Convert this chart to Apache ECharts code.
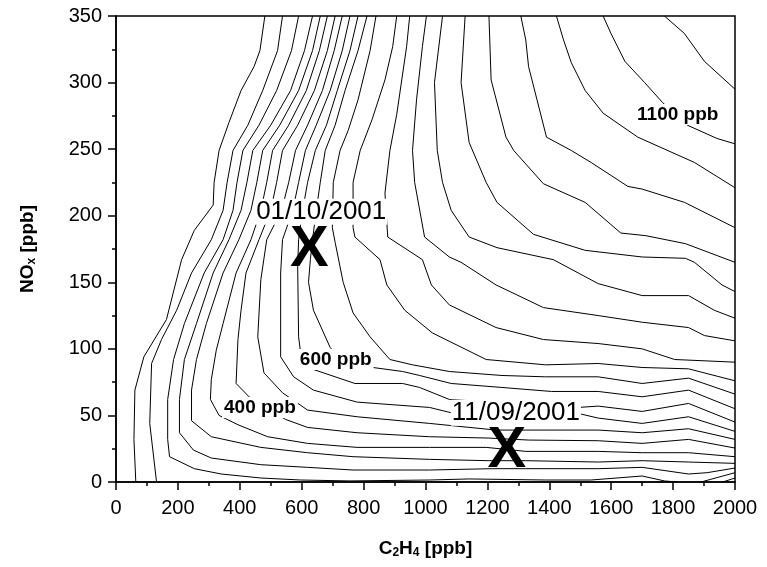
<!DOCTYPE html>
<html>
<head>
<meta charset="utf-8">
<script src="https://cdn.jsdelivr.net/npm/echarts@6.0.0/dist/echarts.min.js"></script>
<style>html,body{margin:0;padding:0;background:#fff;}#main{width:767px;height:567px;}</style>
</head>
<body>
<div id="main"></div>
<script>
// Contour lines (isopleths), [C2H4 ppb, NOx ppb]
const c1150 = [[1772,350],[1836,337],[1901,316],[2000,295]];
const c1100 = [[1574,350],[1599,337],[1644,316],[1708,300],[1766,285],[1846,268],[1942,258],[2000,254]];
const c1050 = [[1423,350],[1446,332],[1471,315],[1516,294],[1574,277],[1686,259],[1869,240],[2000,221]];
const c1000 = [[1308,350],[1324,332],[1333,312],[1391,259],[1471,249],[1535,240],[1654,222],[1700,220],[1837,210],[2000,191]];
const c950 = [[1205,350],[1212,302],[1260,259],[1285,249],[1381,224],[1516,210],[1631,187],[1712,185],[1840,179],[2000,165]];
const c900 = [[1128,350],[1115,300],[1141,255],[1196,225],[1231,210],[1349,186],[1516,174],[1700,169],[1840,168],[1869,165],[1958,148],[2000,143]];
const c850 = [[1055,350],[1029,300],[1038,249],[1055,225],[1083,204],[1141,184],[1231,176],[1413,167],[1558,149],[1700,140],[1850,140],[1933,129],[2000,123]];
const c800 = [[1003,350],[990,327],[971,287],[958,249],[965,225],[997,184],[1077,169],[1115,165],[1228,148],[1381,131],[1558,125],[1700,120],[1850,116],[1901,110],[2000,106]];
const c750 = [[949,350],[939,327],[907,276],[885,249],[869,217],[878,184],[990,167],[1019,148],[1077,133],[1228,116],[1381,107],[1558,104],[1700,100],[1805,92],[2000,90]];
const c700 = [[907,350],[894,327],[869,302],[827,272],[789,249],[766,225],[766,191],[772,184],[853,167],[875,148],[933,129],[1022,112],[1196,92],[1388,88],[1558,89],[1700,86],[1850,85],[2000,76]];
const c650 = [[840,350],[821,324],[782,287],[750,264],[724,249],[702,225],[699,191],[708,180],[734,150],[766,127],[821,109],[885,92],[958,88],[1077,83],[1247,80],[1388,79],[1558,79],[1700,74],[1850,78],[2000,66]];
const c600 = [[811,350],[782,324],[740,294],[708,268],[676,249],[660,225],[647,204],[635,182],[628,167],[622,150],[638,129],[692,101],[724,93],[830,86],[926,83],[981,80],[1083,74],[1247,71],[1407,68],[1558,68],[1700,64],[1850,69],[2000,55]];
const c550 = [[782,350],[756,324],[715,294],[680,268],[644,249],[619,225],[603,204],[590,182],[587,162],[590,109],[596,98],[606,87],[772,74],[926,74],[981,71],[1077,62],[1494,56],[1558,57],[1700,53],[1850,59],[2000,45]];
const c500 = [[756,350],[731,324],[692,294],[647,268],[612,249],[590,225],[571,204],[538,182],[532,157],[532,94],[574,79],[638,69],[779,60],[1013,56],[1083,52],[1503,51],[1558,48],[1700,44],[1850,49],[2000,38]];
const c450 = [[731,350],[705,324],[667,294],[619,268],[580,249],[558,225],[535,204],[487,182],[468,152],[458,109],[478,82],[538,67],[619,54],[779,49],[1013,44],[1228,39],[1324,39],[1558,39],[1700,37],[1850,40],[2000,32]];
const c400 = [[708,350],[683,324],[641,294],[587,268],[538,249],[519,225],[500,204],[462,182],[420,157],[404,129],[394,107],[388,74],[430,64],[484,56],[548,47],[619,41],[779,37],[1013,34],[1205,33],[1333,31.5],[1558,31],[1700,29],[1850,32],[2000,25.5]];
const c350 = [[683,350],[657,324],[615,294],[558,268],[506,249],[487,225],[468,204],[436,182],[388,157],[346,119],[324,99],[308,77],[305,62],[333,50],[394,43],[490,34],[619,29],[779,26],[1013,26],[1196,26],[1324,23],[1558,23],[1700,22],[1850,22],[2000,19]];
const c300 = [[660,350],[635,324],[590,294],[529,268],[474,249],[455,225],[436,204],[397,182],[346,157],[292,119],[260,92],[244,69],[244,46],[308,34],[468,26],[619,22],[766,19],[1013,17],[1205,16],[1324,16],[1558,15],[1700,16],[1850,15],[2000,14]];
const c250 = [[635,350],[609,324],[564,294],[500,268],[442,249],[423,225],[404,204],[365,182],[314,157],[260,119],[221,92],[205,62],[205,37],[250,24],[308,18],[468,13],[619,11],[766,9],[1013,9],[1215,10],[1324,10],[1558,10],[1700,11],[1850,6],[1910,7],[2000,10.5]];
const c200 = [[590,350],[567,324],[519,294],[462,268],[410,249],[391,225],[378,204],[346,182],[285,157],[221,119],[186,92],[167,62],[167,32],[173,19],[253,10],[340,6],[468,3],[596,1.5],[756,0.8],[1013,1.5],[1141,2.3],[1388,1.5],[1535,1.5],[1700,4.5],[1772,0.8],[1814,0]];
const c150 = [[538,350],[522,324],[474,294],[426,268],[378,249],[359,225],[346,204],[308,182],[244,157],[196,129],[147,107],[115,89],[109,44],[131,0]];
const c100 = [[481,350],[465,324],[446,312],[404,294],[365,270],[333,249],[317,225],[314,208],[253,189],[212,167],[163,122],[90,94],[61,69],[58,32],[64,0]];
const c200b = [[1890,0],[2000,7]];
const c150b = [[1960,0],[2000,3]];

// Annotations
const labelTexts = ['1100 ppb', '600 ppb', '400 ppb', '01/10/2001', '11/09/2001', 'X', 'X'];
const labelX = [1815, 710, 465, 663, 1292, 625, 1263];
const labelY = [276, 92, 56, 203, 52, 174, 23];
const labelKinds = ['ppb', 'ppb', 'ppb', 'date', 'date', 'cross', 'cross'];

// Axis tick values
const xTicks = [0, 200, 400, 600, 800, 1000, 1200, 1400, 1600, 1800, 2000];
const yTicks = [0, 50, 100, 150, 200, 250, 300, 350];

const FONT = '"Liberation Sans", Arial, Helvetica, sans-serif';
const contours = [c1150, c1100, c1050, c1000, c950, c900, c850, c800, c750, c700, c650,
  c600, c550, c500, c450, c400, c350, c300, c250, c200, c150, c100, c200b, c150b];

const kindStyle = {
  ppb: { fontSize: 19, fontWeight: 'bold', backgroundColor: '#fff', padding: [1, 2] },
  date: { fontSize: 26, fontWeight: 'normal', backgroundColor: '#fff', padding: [0, 1] },
  cross: { fontSize: 58, fontWeight: 'bold' }
};

const series = contours.map(function (d) {
  return {
    type: 'line', data: d, symbol: 'none', showSymbol: false, silent: true,
    animation: false, z: 2, lineStyle: { color: '#000', width: 1 }
  };
});
series.push({
  type: 'scatter', z: 10, silent: true, animation: false, symbolSize: 2,
  itemStyle: { color: 'rgba(255,255,255,0)', opacity: 1 },
  label: { show: true, position: 'inside', color: '#000', fontFamily: FONT, textBorderWidth: 0, opacity: 1 },
  data: labelTexts.map(function (t, i) {
    return {
      value: [labelX[i], labelY[i]],
      itemStyle: { opacity: 1 },
      label: Object.assign({
        show: true, position: 'inside', formatter: t, color: '#000', fontFamily: FONT,
        textBorderWidth: 0, opacity: 1
      }, kindStyle[labelKinds[i]])
    };
  })
});

const axisCommon = {
  type: 'value',
  axisLine: { show: true, onZero: false, lineStyle: { color: '#000', width: 1.5 } },
  axisTick: { show: true, inside: false, length: 8, lineStyle: { color: '#000', width: 1.5 } },
  minorTick: { show: true, splitNumber: 2, length: 4, lineStyle: { color: '#000', width: 1.5 } },
  splitLine: { show: false },
  minorSplitLine: { show: false }
};

const chart = echarts.init(document.getElementById('main'), null, { renderer: 'canvas', width: 767, height: 567 });
chart.setOption({
  animation: false,
  backgroundColor: '#fff',
  grid: { left: 116, right: 32, top: 16, bottom: 85, show: true, borderColor: '#000', borderWidth: 1.5, backgroundColor: 'transparent' },
  xAxis: Object.assign({}, axisCommon, {
    min: xTicks[0], max: xTicks[xTicks.length - 1], interval: xTicks[1] - xTicks[0],
    axisLabel: { color: '#000', fontSize: 20, margin: 16, fontFamily: FONT, showMinLabel: true, showMaxLabel: true,
      formatter: function (v) { return String(v); } },
    name: 'C{s|2}H{s|4} [ppb]', nameLocation: 'middle', nameGap: 56,
    nameTextStyle: {
      color: '#000', fontSize: 19, fontWeight: 'bold', fontFamily: FONT,
      rich: { s: { fontSize: 12, fontWeight: 'bold', fontFamily: FONT, color: '#000', padding: [9, 0, 0, 0] } }
    }
  }),
  yAxis: Object.assign({}, axisCommon, {
    min: yTicks[0], max: yTicks[yTicks.length - 1], interval: yTicks[1] - yTicks[0],
    axisLabel: { color: '#000', fontSize: 20, margin: 14, fontFamily: FONT, showMinLabel: true, showMaxLabel: true,
      formatter: function (v) { return String(v); } },
    name: 'NO{s|x} [ppb]', nameLocation: 'middle', nameGap: 78, nameRotate: 90,
    nameTextStyle: {
      color: '#000', fontSize: 19, fontWeight: 'bold', fontFamily: FONT,
      rich: { s: { fontSize: 12, fontWeight: 'bold', fontFamily: FONT, color: '#000', padding: [9, 0, 0, 0] } }
    }
  }),
  series: series
});
</script>
</body>
</html>
